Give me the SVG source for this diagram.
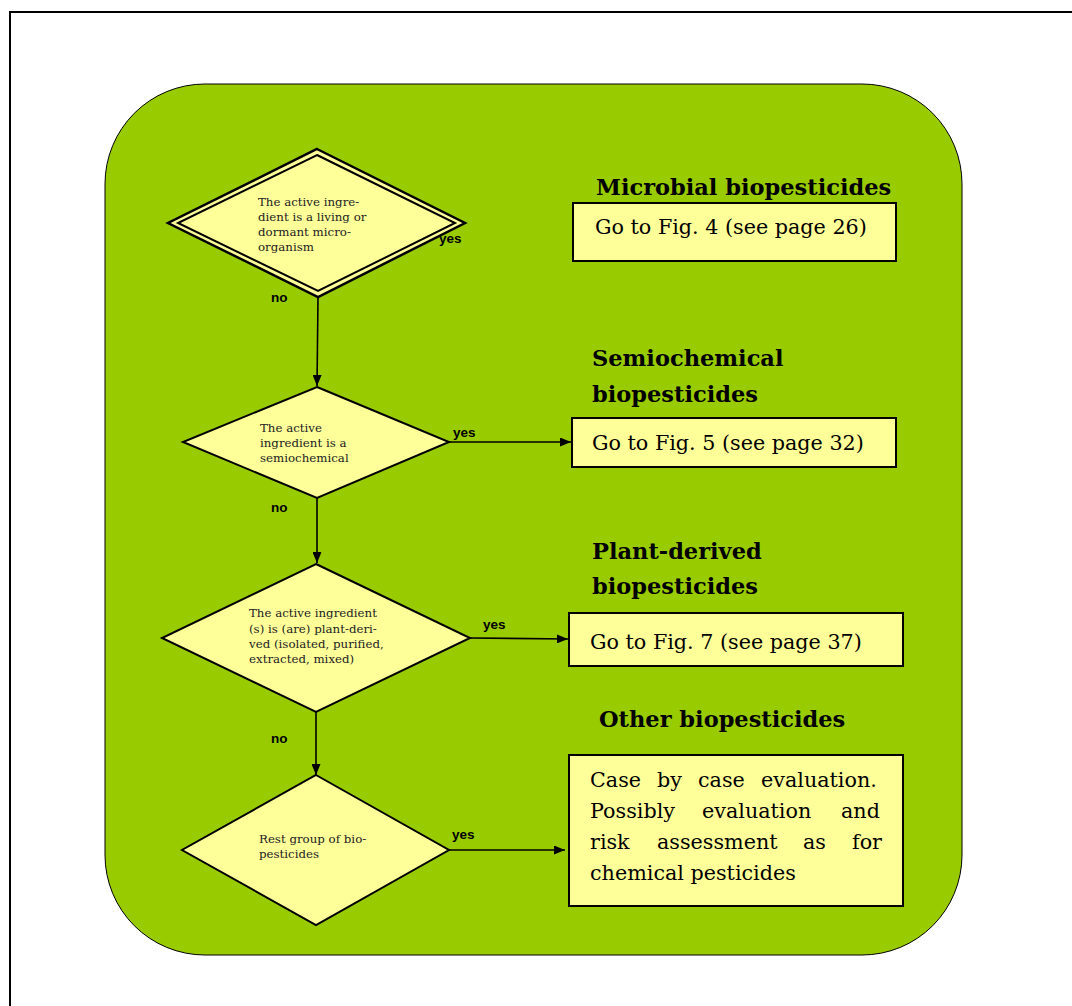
<svg xmlns="http://www.w3.org/2000/svg" width="1072" height="1006" viewBox="0 0 1072 1006">
<defs>
<style>
.dia{fill:#ffff99;stroke:#000;stroke-width:2}
.box{fill:#ffff99;stroke:#000;stroke-width:2}
.dt{font-family:"DejaVu Serif",serif;font-size:11.8px;fill:#222}
.bt{font-family:"DejaVu Serif",serif;font-size:20.7px;fill:#000}
.tt{font-family:"DejaVu Serif",serif;font-size:22.5px;font-weight:bold;fill:#000}
.lab{font-family:"Liberation Sans",Arial,sans-serif;font-size:13.5px;font-weight:bold;fill:#000}
.con{stroke:#000;stroke-width:1.6;fill:none}
</style>
<marker id="arr" markerWidth="11" markerHeight="9" refX="11" refY="4.5" orient="auto" markerUnits="userSpaceOnUse">
<path d="M0,0 L11,4.5 L0,9 Z" fill="#000"/>
</marker>
</defs>
<rect width="1072" height="1006" fill="#fff"/>
<rect x="10" y="12" width="1080" height="1010" fill="none" stroke="#000" stroke-width="2"/>
<rect x="105" y="84" width="857" height="871" rx="100" ry="100" fill="#99cc00" stroke="#000" stroke-width="1"/>

<g id="connectors">
<line class="con" x1="318" y1="298" x2="317" y2="386" marker-end="url(#arr)"/>
<line class="con" x1="449" y1="442" x2="571" y2="442" marker-end="url(#arr)"/>
<line class="con" x1="317" y1="498" x2="317" y2="563" marker-end="url(#arr)"/>
<line class="con" x1="470" y1="638" x2="568" y2="639" marker-end="url(#arr)"/>
<line class="con" x1="316" y1="712" x2="316" y2="775" marker-end="url(#arr)"/>
<line class="con" x1="449" y1="850" x2="565" y2="850" marker-end="url(#arr)"/>
<text class="lab" x="439" y="243">yes</text>
<text class="lab" x="271" y="302">no</text>
<text class="lab" x="453" y="437">yes</text>
<text class="lab" x="271" y="512">no</text>
<text class="lab" x="483" y="629">yes</text>
<text class="lab" x="271" y="743">no</text>
<text class="lab" x="452" y="839">yes</text>
</g>

<g id="d1">
<polygon points="317,149 465,223 318,297 168,223" fill="#ffff99" stroke="#000" stroke-width="2.5"/>
<polygon points="317,155 455,223 318,291 178,223" fill="#ffff99" stroke="#000" stroke-width="2"/>
<text class="dt" x="258" y="206">The active ingre-</text>
<text class="dt" x="258" y="221">dient is a living or</text>
<text class="dt" x="258" y="236">dormant micro-</text>
<text class="dt" x="258" y="251">organism</text>
</g>

<g id="d2">
<polygon class="dia" points="317,387 449,442 317,498 183,442"/>
<text class="dt" x="260" y="432">The active</text>
<text class="dt" x="260" y="447">ingredient is a</text>
<text class="dt" x="260" y="462">semiochemical</text>
</g>

<g id="d3">
<polygon class="dia" points="316,564 470,638 316,712 162,638"/>
<text class="dt" x="249" y="617">The active ingredient</text>
<text class="dt" x="249" y="633">(s) is (are) plant-deri-</text>
<text class="dt" x="249" y="648">ved (isolated, purified,</text>
<text class="dt" x="249" y="663">extracted, mixed)</text>
</g>

<g id="d4">
<polygon class="dia" points="316,775 449,850 316,925 182,850"/>
<text class="dt" x="259" y="843">Rest group of bio-</text>
<text class="dt" x="259" y="858">pesticides</text>
</g>

<g id="b1">
<text class="tt" x="596" y="195">Microbial biopesticides</text>
<rect class="box" x="573" y="203" width="323" height="58"/>
<text class="bt" x="595" y="234">Go to Fig. 4 (see page 26)</text>
</g>

<g id="b2">
<text class="tt" x="592" y="366">Semiochemical</text>
<text class="tt" x="592" y="402">biopesticides</text>
<rect class="box" x="572" y="418" width="324" height="49"/>
<text class="bt" x="592" y="450">Go to Fig. 5 (see page 32)</text>
</g>

<g id="b3">
<text class="tt" x="592" y="559">Plant-derived</text>
<text class="tt" x="592" y="594">biopesticides</text>
<rect class="box" x="569" y="613" width="334" height="53"/>
<text class="bt" x="590" y="649">Go to Fig. 7 (see page 37)</text>
</g>

<g id="b4">
<text class="tt" x="599" y="727">Other biopesticides</text>
<rect class="box" x="569" y="755" width="334" height="151"/>
<text class="bt" y="787"><tspan x="590">Case</tspan><tspan x="657">by</tspan><tspan x="698">case</tspan><tspan x="761">evaluation.</tspan></text>
<text class="bt" y="818"><tspan x="590">Possibly</tspan><tspan x="702">evaluation</tspan><tspan x="841">and</tspan></text>
<text class="bt" y="849"><tspan x="590">risk</tspan><tspan x="657">assessment</tspan><tspan x="803">as</tspan><tspan x="852">for</tspan></text>
<text class="bt" x="590" y="880">chemical pesticides</text>
</g>
</svg>
